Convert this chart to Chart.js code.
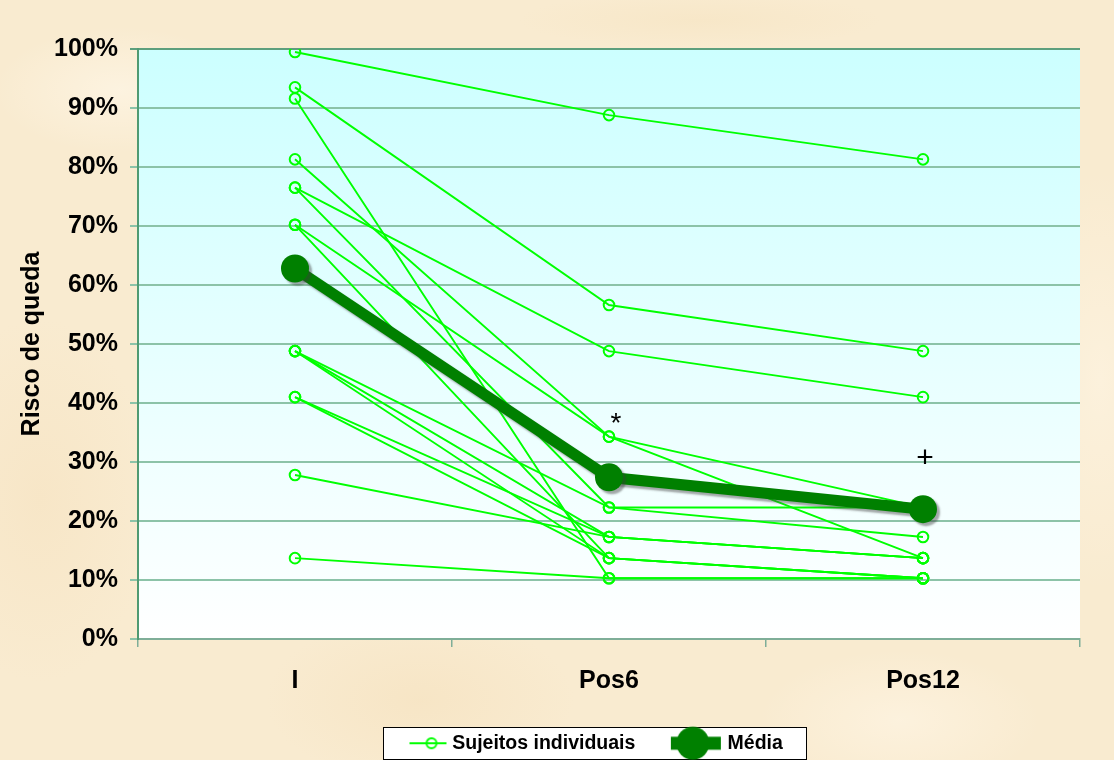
<!DOCTYPE html>
<html>
<head>
<meta charset="utf-8">
<script src="https://cdn.jsdelivr.net/npm/chart.js@4.4.1/dist/chart.umd.min.js"></script>
<style>
  html, body { margin: 0; padding: 0; }
  body {
    width: 1114px; height: 760px; overflow: hidden;
    background-color: #f9ebd0;
    background-image:
      radial-gradient(ellipse 180px 90px at 120px 90px, rgba(255,248,234,0.6), rgba(255,248,234,0) 70%),
      radial-gradient(ellipse 220px 120px at 420px 700px, rgba(244,222,184,0.45), rgba(244,222,184,0) 70%),
      radial-gradient(ellipse 200px 100px at 900px 720px, rgba(255,246,230,0.6), rgba(255,246,230,0) 70%),
      radial-gradient(ellipse 160px 260px at 40px 500px, rgba(245,224,188,0.45), rgba(245,224,188,0) 70%),
      radial-gradient(ellipse 260px 40px at 700px 20px, rgba(245,226,190,0.45), rgba(245,226,190,0) 70%),
      radial-gradient(ellipse 120px 300px at 1100px 380px, rgba(255,247,232,0.5), rgba(255,247,232,0) 70%);
  }
  canvas { display: block; }
</style>
</head>
<body>
<canvas id="chart" width="1114" height="760"></canvas>
<script>
// ---- data ----
const categories = ['I', 'Pos6', 'Pos12'];
const riscoInicial = [99.5, 93.5, 76.5, 81.3, 70.2, 91.6, 76.5, 70.2, 48.8, 48.8, 48.8, 41.0, 41.0, 27.8, 13.7];
const riscoPos6    = [88.8, 56.6, 48.8, 34.3, 34.3, 10.3, 22.3, 13.7, 22.3, 13.7, 17.3, 17.3, 13.7, 17.3, 10.3];
const riscoPos12   = [81.3, 48.8, 41.0, 22.3, 13.7, 10.3, 22.3, 10.3, 17.3, 10.3, 13.7, 13.7, 10.3, 13.7, 10.3];
const mediaRisco   = [62.8, 27.4, 22.0];
const yTickLabels  = ['0%', '10%', '20%', '30%', '40%', '50%', '60%', '70%', '80%', '90%', '100%'];
const seriesNames  = ['Sujeitos individuais', 'Média'];
const axisTitle    = 'Risco de queda';
const sigMarks     = ['', '*', '+'];
const sigLevels    = [null, 36.4, 30.6];

// ---- styling ----
const FONT = '"Liberation Sans", Arial, Helvetica, sans-serif';
const SUBJ_COLOR = '#00ff00';
const MEAN_COLOR = '#008000';

// legend marker images: line + circle, drawn off-centre so that the text gap matches
function makeMarker(w, h, x0, x1, cx, lineW, color, r, filled, borderW) {
  const c = document.createElement('canvas');
  c.width = w; c.height = h;
  const g = c.getContext('2d');
  g.strokeStyle = color;
  g.lineWidth = lineW;
  g.beginPath(); g.moveTo(x0, h / 2); g.lineTo(x1, h / 2); g.stroke();
  g.beginPath(); g.arc(cx, h / 2, r, 0, Math.PI * 2);
  if (filled) { g.fillStyle = color; g.fill(); }
  else { g.lineWidth = borderW; g.stroke(); }
  return c;
}
const subjMarker = makeMarker(46, 14, 8, 45, 30, 1.8, SUBJ_COLOR, 5, false, 1.9);
const meanMarker = makeMarker(60, 36, 1, 51, 23, 13, MEAN_COLOR, 16.5, true, 0);

const datasets = [];
datasets.push({
  label: seriesNames[1],
  data: mediaRisco,
  borderColor: MEAN_COLOR,
  backgroundColor: MEAN_COLOR,
  borderWidth: 11,
  pointRadius: 14,
  pointHoverRadius: 14,
  pointBackgroundColor: MEAN_COLOR,
  pointBorderColor: MEAN_COLOR,
  pointBorderWidth: 0,
  tension: 0,
  order: 0,
  isMean: true
});
for (let i = 0; i < riscoInicial.length; i++) {
  datasets.push({
    label: seriesNames[0],
    data: [riscoInicial[i], riscoPos6[i], riscoPos12[i]],
    borderColor: SUBJ_COLOR,
    backgroundColor: 'rgba(0,0,0,0)',
    borderWidth: 1.9,
    pointRadius: 5.3,
    pointHoverRadius: 5.3,
    pointBorderColor: SUBJ_COLOR,
    pointBackgroundColor: 'rgba(0,0,0,0)',
    pointBorderWidth: 2,
    tension: 0,
    order: 1
  });
}

const plotDecor = {
  id: 'plotDecor',
  afterLayout(chart) {
    const lg = chart.legend;
    if (lg) {
      const w = lg.right - lg.left;
      lg.left = 360; lg.right = 360 + w;
      lg.top += 3; lg.bottom += 3;
    }
    // let the category labels overflow the (narrow) axis box without being clipped
    const xs = chart.scales.x;
    if (xs) xs.bottom = xs.top + 90;
  },
  beforeDraw(chart) {
    const {ctx, chartArea: a} = chart;
    ctx.save();
    const grad = ctx.createLinearGradient(0, a.top, 0, a.bottom);
    grad.addColorStop(0, '#ccffff');
    grad.addColorStop(1, '#ffffff');
    ctx.fillStyle = grad;
    ctx.fillRect(a.left, a.top, a.right - a.left, a.bottom - a.top);
    // legend frame
    const hb = chart.legend && chart.legend.legendHitBoxes;
    if (hb && hb.length) {
      const first = hb[0], last = hb[hb.length - 1];
      const cy = first.top + first.height / 2;
      const x0 = Math.round(first.left - 23.5), x1 = Math.round(last.left + last.width + 23);
      const y0 = Math.round(cy - 16);
      ctx.fillStyle = '#ffffff';
      ctx.fillRect(x0, y0, x1 - x0, 32);
      ctx.strokeStyle = '#000000';
      ctx.lineWidth = 1;
      ctx.strokeRect(x0 + 0.5, y0 + 0.5, x1 - x0, 32);
    }
    ctx.restore();
  },
  beforeDatasetDraw(chart, args) {
    if (chart.data.datasets[args.index].isMean) {
      const ctx = chart.ctx;
      ctx.save();
      ctx.shadowColor = 'rgba(60,60,60,0.45)';
      ctx.shadowOffsetX = 3;
      ctx.shadowOffsetY = 3;
      ctx.shadowBlur = 2;
    }
  },
  afterDatasetDraw(chart, args) {
    if (chart.data.datasets[args.index].isMean) chart.ctx.restore();
  },
  afterDatasetsDraw(chart) {
    const {ctx, scales: {x, y}} = chart;
    ctx.save();
    ctx.fillStyle = '#000000';
    ctx.textAlign = 'center';
    ctx.textBaseline = 'middle';
    sigMarks.forEach((m, i) => {
      if (!m) return;
      ctx.font = (m === '*' ? '28px ' : '30px ') + FONT;
      ctx.fillText(m, x.getPixelForValue(i) + (m === '*' ? 7 : 2), y.getPixelForValue(sigLevels[i]));
    });
    ctx.restore();
  }
};

new Chart(document.getElementById('chart'), {
  type: 'line',
  data: { labels: categories, datasets },
  plugins: [plotDecor],
  options: {
    responsive: false,
    animation: false,
    layout: { padding: { top: 49, right: 34, left: 0, bottom: 0 } },
    plugins: {
      tooltip: { enabled: false },
      legend: {
        position: 'bottom',
        align: 'start',
        onClick: null,
        labels: {
          usePointStyle: true,
          pointStyleWidth: 36,
          padding: 46.5,
          color: '#000000',
          font: { family: FONT, size: 19.5, weight: 'bold' },
          generateLabels() {
            return [
              { text: seriesNames[0], pointStyle: subjMarker, fillStyle: SUBJ_COLOR, strokeStyle: SUBJ_COLOR, lineWidth: 0, hidden: false, datasetIndex: 1 },
              { text: seriesNames[1], pointStyle: meanMarker, fillStyle: MEAN_COLOR, strokeStyle: MEAN_COLOR, lineWidth: 0, hidden: false, datasetIndex: 0 }
            ];
          }
        }
      }
    },
    scales: {
      x: {
        type: 'category',
        offset: true,
        afterFit(s) { s.height = 45; },
        grid: { offset: true, drawOnChartArea: false, drawTicks: true, tickLength: 8, color: '#7fae98', lineWidth: 1.5 },
        border: { display: true, color: '#7fae98', width: 2 },
        ticks: { color: '#000000', padding: 19, font: { family: FONT, size: 25, weight: 'bold' } }
      },
      y: {
        min: 0, max: 100,
        afterFit(s) { s.width = 138; },
        afterBuildTicks(s) { s.ticks = yTickLabels.map((_, i) => ({ value: i * 10 })); },
        grid: {
          drawTicks: true, tickLength: 8, lineWidth: 2,
          color: (c) => (c.tick && c.tick.value === 100 ? '#5d9f7d' : '#8cc3a8')
        },
        border: { display: true, color: '#4f9a72', width: 2 },
        ticks: {
          color: '#000000', padding: 12,
          font: { family: FONT, size: 25, weight: 'bold' },
          callback: (v, i) => yTickLabels[i]
        },
        title: {
          display: true, text: axisTitle, color: '#000000',
          padding: { top: 17, bottom: 4 },
          font: { family: FONT, size: 25, weight: 'bold' }
        }
      }
    }
  }
});
</script>
</body>
</html>
